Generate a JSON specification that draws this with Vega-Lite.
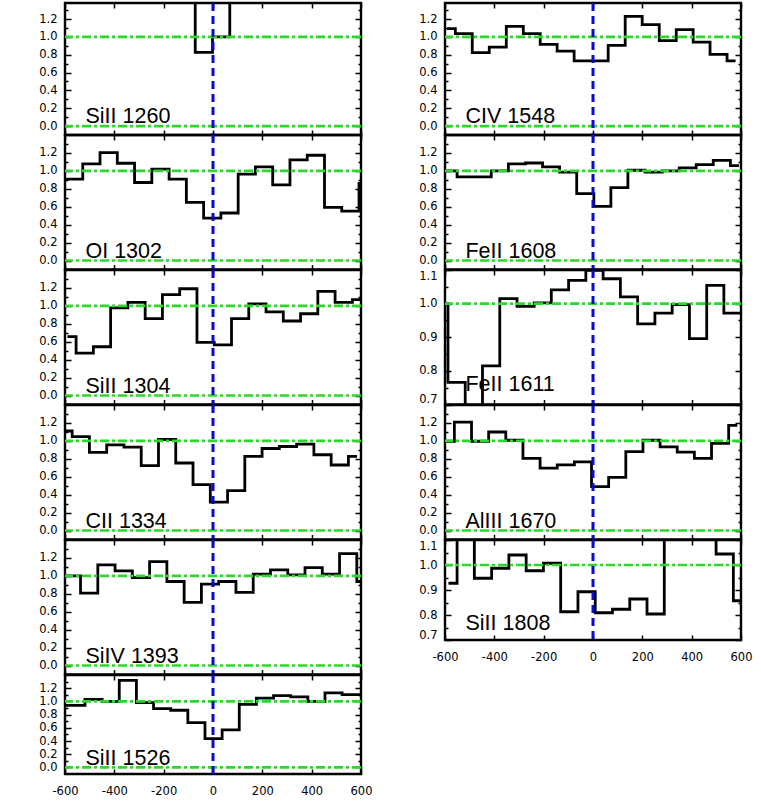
{
  "$schema": "https://vega.github.io/schema/vega-lite/v6.json",
  "padding": {"left": 37, "top": 0, "right": 0, "bottom": 0},
  "autosize": {"type": "pad"},
  "config": {
    "view": {"stroke": "black", "strokeWidth": 2.4},
    "axis": {"labelFont": "DejaVu Sans", "labelFontSize": 11.5, "labelColor": "black", "tickColor": "black", "tickWidth": 1.5, "domain": false, "grid": false, "labelOverlap": false}
  },
  "datasets": {
    "spec": [
      {"ion":"SiII 1260","v":-597,"f":2.5},{"ion":"SiII 1260","v":-527,"f":2.5},{"ion":"SiII 1260","v":-457,"f":2.5},{"ion":"SiII 1260","v":-387,"f":2.5},{"ion":"SiII 1260","v":-317,"f":2.5},{"ion":"SiII 1260","v":-247,"f":2.5},{"ion":"SiII 1260","v":-177,"f":2.5},{"ion":"SiII 1260","v":-107,"f":2.5},{"ion":"SiII 1260","v":-37,"f":0.826},{"ion":"SiII 1260","v":33,"f":1.0},{"ion":"SiII 1260","v":103,"f":2.5},{"ion":"SiII 1260","v":173,"f":2.5},{"ion":"SiII 1260","v":243,"f":2.5},{"ion":"SiII 1260","v":313,"f":2.5},{"ion":"SiII 1260","v":383,"f":2.5},{"ion":"SiII 1260","v":453,"f":2.5},{"ion":"SiII 1260","v":523,"f":2.5},{"ion":"SiII 1260","v":593,"f":2.5},

      {"ion":"OI 1302","v":-633,"f":0.907},{"ion":"OI 1302","v":-563,"f":0.907},{"ion":"OI 1302","v":-493,"f":1.078},{"ion":"OI 1302","v":-423,"f":1.204},{"ion":"OI 1302","v":-353,"f":1.085},{"ion":"OI 1302","v":-283,"f":0.870},{"ion":"OI 1302","v":-213,"f":1.019},{"ion":"OI 1302","v":-143,"f":0.907},{"ion":"OI 1302","v":-73,"f":0.648},{"ion":"OI 1302","v":-3,"f":0.474},{"ion":"OI 1302","v":67,"f":0.530},{"ion":"OI 1302","v":137,"f":0.963},{"ion":"OI 1302","v":207,"f":1.044},{"ion":"OI 1302","v":277,"f":0.844},{"ion":"OI 1302","v":347,"f":1.122},{"ion":"OI 1302","v":417,"f":1.174},{"ion":"OI 1302","v":487,"f":0.593},{"ion":"OI 1302","v":557,"f":0.552},{"ion":"OI 1302","v":627,"f":0.86},

      {"ion":"SiII 1304","v":-590,"f":0.658},{"ion":"SiII 1304","v":-520,"f":0.474},{"ion":"SiII 1304","v":-450,"f":0.544},{"ion":"SiII 1304","v":-380,"f":0.978},{"ion":"SiII 1304","v":-310,"f":1.040},{"ion":"SiII 1304","v":-240,"f":0.857},{"ion":"SiII 1304","v":-170,"f":1.125},{"ion":"SiII 1304","v":-100,"f":1.191},{"ion":"SiII 1304","v":-30,"f":0.592},{"ion":"SiII 1304","v":40,"f":0.566},{"ion":"SiII 1304","v":110,"f":0.857},{"ion":"SiII 1304","v":180,"f":1.022},{"ion":"SiII 1304","v":250,"f":0.934},{"ion":"SiII 1304","v":320,"f":0.831},{"ion":"SiII 1304","v":390,"f":0.912},{"ion":"SiII 1304","v":460,"f":1.162},{"ion":"SiII 1304","v":530,"f":1.040},{"ion":"SiII 1304","v":600,"f":1.07},

      {"ion":"CII 1334","v":-606,"f":1.11},{"ion":"CII 1334","v":-536,"f":1.048},{"ion":"CII 1334","v":-466,"f":0.871},{"ion":"CII 1334","v":-396,"f":0.956},{"ion":"CII 1334","v":-326,"f":0.930},{"ion":"CII 1334","v":-256,"f":0.723},{"ion":"CII 1334","v":-186,"f":1.015},{"ion":"CII 1334","v":-116,"f":0.753},{"ion":"CII 1334","v":-46,"f":0.513},{"ion":"CII 1334","v":24,"f":0.317},{"ion":"CII 1334","v":94,"f":0.446},{"ion":"CII 1334","v":164,"f":0.827},{"ion":"CII 1334","v":234,"f":0.915},{"ion":"CII 1334","v":304,"f":0.937},{"ion":"CII 1334","v":374,"f":0.963},{"ion":"CII 1334","v":444,"f":0.845},{"ion":"CII 1334","v":514,"f":0.731},{"ion":"CII 1334","v":584,"f":0.827},

      {"ion":"SiIV 1393","v":-642,"f":1.0},{"ion":"SiIV 1393","v":-572,"f":1.0},{"ion":"SiIV 1393","v":-502,"f":0.807},{"ion":"SiIV 1393","v":-432,"f":1.122},{"ion":"SiIV 1393","v":-362,"f":1.056},{"ion":"SiIV 1393","v":-292,"f":0.981},{"ion":"SiIV 1393","v":-222,"f":1.159},{"ion":"SiIV 1393","v":-152,"f":0.937},{"ion":"SiIV 1393","v":-82,"f":0.704},{"ion":"SiIV 1393","v":-12,"f":0.907},{"ion":"SiIV 1393","v":58,"f":0.937},{"ion":"SiIV 1393","v":128,"f":0.815},{"ion":"SiIV 1393","v":198,"f":1.019},{"ion":"SiIV 1393","v":268,"f":1.067},{"ion":"SiIV 1393","v":338,"f":1.011},{"ion":"SiIV 1393","v":408,"f":1.093},{"ion":"SiIV 1393","v":478,"f":1.019},{"ion":"SiIV 1393","v":548,"f":1.248},{"ion":"SiIV 1393","v":618,"f":0.937},

      {"ion":"SiII 1526","v":-624,"f":0.941},{"ion":"SiII 1526","v":-554,"f":0.941},{"ion":"SiII 1526","v":-484,"f":1.03},{"ion":"SiII 1526","v":-415,"f":1.0},{"ion":"SiII 1526","v":-345,"f":1.32},{"ion":"SiII 1526","v":-276,"f":0.98},{"ion":"SiII 1526","v":-206,"f":0.891},{"ion":"SiII 1526","v":-137,"f":0.866},{"ion":"SiII 1526","v":-67,"f":0.678},{"ion":"SiII 1526","v":2,"f":0.436},{"ion":"SiII 1526","v":72,"f":0.569},{"ion":"SiII 1526","v":141,"f":0.955},{"ion":"SiII 1526","v":211,"f":1.05},{"ion":"SiII 1526","v":280,"f":1.089},{"ion":"SiII 1526","v":350,"f":1.069},{"ion":"SiII 1526","v":419,"f":1.0},{"ion":"SiII 1526","v":489,"f":1.129},{"ion":"SiII 1526","v":558,"f":1.104},{"ion":"SiII 1526","v":628,"f":1.104},

      {"ion":"CIV 1548","v":-592,"f":1.092},{"ion":"CIV 1548","v":-524,"f":1.037},{"ion":"CIV 1548","v":-455,"f":0.823},{"ion":"CIV 1548","v":-386,"f":0.886},{"ion":"CIV 1548","v":-317,"f":1.118},{"ion":"CIV 1548","v":-248,"f":1.037},{"ion":"CIV 1548","v":-180,"f":0.915},{"ion":"CIV 1548","v":-111,"f":0.841},{"ion":"CIV 1548","v":-42,"f":0.731},{"ion":"CIV 1548","v":27,"f":0.731},{"ion":"CIV 1548","v":96,"f":0.904},{"ion":"CIV 1548","v":165,"f":1.229},{"ion":"CIV 1548","v":234,"f":1.137},{"ion":"CIV 1548","v":303,"f":0.959},{"ion":"CIV 1548","v":372,"f":1.081},{"ion":"CIV 1548","v":440,"f":0.941},{"ion":"CIV 1548","v":509,"f":0.804},{"ion":"CIV 1548","v":578,"f":0.731},

      {"ion":"FeII 1608","v":-655,"f":1.0},{"ion":"FeII 1608","v":-586,"f":1.0},{"ion":"FeII 1608","v":-516,"f":0.934},{"ion":"FeII 1608","v":-447,"f":0.934},{"ion":"FeII 1608","v":-378,"f":1.0},{"ion":"FeII 1608","v":-308,"f":1.077},{"ion":"FeII 1608","v":-239,"f":1.088},{"ion":"FeII 1608","v":-170,"f":1.044},{"ion":"FeII 1608","v":-101,"f":0.985},{"ion":"FeII 1608","v":-31,"f":0.746},{"ion":"FeII 1608","v":38,"f":0.603},{"ion":"FeII 1608","v":107,"f":0.812},{"ion":"FeII 1608","v":176,"f":1.007},{"ion":"FeII 1608","v":246,"f":0.985},{"ion":"FeII 1608","v":315,"f":1.0},{"ion":"FeII 1608","v":384,"f":1.033},{"ion":"FeII 1608","v":453,"f":1.07},{"ion":"FeII 1608","v":522,"f":1.118},{"ion":"FeII 1608","v":592,"f":1.059},

      {"ion":"FeII 1611","v":-623,"f":1.0},{"ion":"FeII 1611","v":-553,"f":0.766},{"ion":"FeII 1611","v":-483,"f":0.6},{"ion":"FeII 1611","v":-413,"f":0.815},{"ion":"FeII 1611","v":-343,"f":1.015},{"ion":"FeII 1611","v":-273,"f":0.992},{"ion":"FeII 1611","v":-204,"f":1.002},{"ion":"FeII 1611","v":-134,"f":1.041},{"ion":"FeII 1611","v":-64,"f":1.069},{"ion":"FeII 1611","v":6,"f":1.099},{"ion":"FeII 1611","v":76,"f":1.074},{"ion":"FeII 1611","v":146,"f":1.02},{"ion":"FeII 1611","v":216,"f":0.94},{"ion":"FeII 1611","v":286,"f":0.972},{"ion":"FeII 1611","v":356,"f":0.997},{"ion":"FeII 1611","v":426,"f":0.896},{"ion":"FeII 1611","v":496,"f":1.054},{"ion":"FeII 1611","v":565,"f":0.972},{"ion":"FeII 1611","v":635,"f":0.972},

      {"ion":"AlIII 1670","v":-597,"f":0.996},{"ion":"AlIII 1670","v":-527,"f":1.21},{"ion":"AlIII 1670","v":-458,"f":0.996},{"ion":"AlIII 1670","v":-388,"f":1.099},{"ion":"AlIII 1670","v":-319,"f":1.007},{"ion":"AlIII 1670","v":-249,"f":0.805},{"ion":"AlIII 1670","v":-180,"f":0.695},{"ion":"AlIII 1670","v":-110,"f":0.732},{"ion":"AlIII 1670","v":-41,"f":0.765},{"ion":"AlIII 1670","v":29,"f":0.489},{"ion":"AlIII 1670","v":98,"f":0.592},{"ion":"AlIII 1670","v":168,"f":0.879},{"ion":"AlIII 1670","v":237,"f":1.007},{"ion":"AlIII 1670","v":307,"f":0.934},{"ion":"AlIII 1670","v":376,"f":0.875},{"ion":"AlIII 1670","v":446,"f":0.805},{"ion":"AlIII 1670","v":515,"f":0.971},{"ion":"AlIII 1670","v":585,"f":1.173},

      {"ion":"SiII 1808","v":-586,"f":0.927},{"ion":"SiII 1808","v":-516,"f":1.2},{"ion":"SiII 1808","v":-446,"f":0.947},{"ion":"SiII 1808","v":-376,"f":0.987},{"ion":"SiII 1808","v":-306,"f":1.04},{"ion":"SiII 1808","v":-236,"f":0.977},{"ion":"SiII 1808","v":-166,"f":1.007},{"ion":"SiII 1808","v":-96,"f":0.813},{"ion":"SiII 1808","v":-26,"f":0.893},{"ion":"SiII 1808","v":44,"f":0.809},{"ion":"SiII 1808","v":114,"f":0.823},{"ion":"SiII 1808","v":184,"f":0.864},{"ion":"SiII 1808","v":254,"f":0.804},{"ion":"SiII 1808","v":324,"f":1.2},{"ion":"SiII 1808","v":394,"f":1.2},{"ion":"SiII 1808","v":464,"f":1.2},{"ion":"SiII 1808","v":534,"f":1.044},{"ion":"SiII 1808","v":604,"f":0.857}
    ]
  },
  "spacing": 43,
  "bounds": "full",
  "hconcat": [
    {
      "spacing": 0,
      "bounds": "flush",
      "vconcat": [
        {
          "width": 296, "height": 132,
          "resolve": {"axis": {"x": "independent", "y": "independent"}},
          "layer": [
            {"data": {"name": "spec"}, "transform": [{"filter": "datum.ion == 'SiII 1260'"}],
             "mark": {"type": "line", "interpolate": "step", "clip": true, "color": "black", "strokeWidth": 2.8},
             "encoding": {
               "x": {"field": "v", "type": "quantitative", "scale": {"domain": [-600, 600], "nice": false, "zero": false}, "axis": {"orient": "bottom", "title": null, "values": [-600,-400,-200,0,200,400,600], "labels": false, "tickSize": -5}},
               "y": {"field": "f", "type": "quantitative", "scale": {"domain": [-0.1, 1.38], "nice": false, "zero": false}, "axis": {"orient": "left", "title": null, "values": [0,0.1,0.2,0.3,0.4,0.5,0.6,0.7,0.8,0.9,1,1.1,1.2,1.3], "labelExpr": "round(datum.value*10) % 2 == 0 ? format(datum.value, '.1f') : ''", "tickSize": {"condition": {"test": "round(datum.value*10) % 2 == 1", "value": -3}, "value": -6}, "labelPadding": 14}}
             }},
            {"data": {"values": [{}]}, "mark": {"type": "rule", "color": "#2ed62e", "strokeWidth": 2.6, "strokeDash": [9, 3, 3, 3], "clip": true},
             "encoding": {"y": {"datum": 0, "type": "quantitative", "scale": {"domain": [-0.1, 1.38], "nice": false, "zero": false}, "axis": {"orient": "right", "title": null, "values": [0,0.1,0.2,0.3,0.4,0.5,0.6,0.7,0.8,0.9,1,1.1,1.2,1.3], "labels": false, "tickSize": {"condition": {"test": "round(datum.value*10) % 2 == 1", "value": -3}, "value": -6}}}}},
            {"data": {"values": [{}]}, "mark": {"type": "rule", "color": "#2ed62e", "strokeWidth": 2.6, "strokeDash": [9, 3, 3, 3], "clip": true},
             "encoding": {"y": {"datum": 1, "type": "quantitative", "scale": {"domain": [-0.1, 1.38], "nice": false, "zero": false}, "axis": null}}},
            {"data": {"values": [{}]}, "mark": {"type": "rule", "color": "#0a0ad2", "strokeWidth": 3, "strokeDash": [8, 5]},
             "encoding": {"x": {"datum": 0, "type": "quantitative", "scale": {"domain": [-600, 600], "nice": false, "zero": false}, "axis": {"orient": "top", "title": null, "values": [-600,-400,-200,0,200,400,600], "labels": false, "tickSize": -5}}}},
            {"data": {"values": [{}]}, "mark": {"type": "text", "text": "SiII 1260", "font": "Liberation Sans", "fontSize": 21.5, "align": "left", "baseline": "alphabetic", "color": "black"},
             "encoding": {"x": {"datum": -517, "type": "quantitative", "scale": {"domain": [-600, 600], "nice": false, "zero": false}, "axis": null}, "y": {"datum": 0.03, "type": "quantitative", "scale": {"domain": [-0.1, 1.38], "nice": false, "zero": false}, "axis": null}}}
          ]
        },
        {
          "width": 296, "height": 134.5,
          "resolve": {"axis": {"x": "independent", "y": "independent"}},
          "layer": [
            {"data": {"name": "spec"}, "transform": [{"filter": "datum.ion == 'OI 1302'"}],
             "mark": {"type": "line", "interpolate": "step", "clip": true, "color": "black", "strokeWidth": 2.8},
             "encoding": {
               "x": {"field": "v", "type": "quantitative", "scale": {"domain": [-600, 600], "nice": false, "zero": false}, "axis": {"orient": "bottom", "title": null, "values": [-600,-400,-200,0,200,400,600], "labels": false, "tickSize": -5}},
               "y": {"field": "f", "type": "quantitative", "scale": {"domain": [-0.1, 1.4], "nice": false, "zero": false}, "axis": {"orient": "left", "title": null, "values": [0,0.1,0.2,0.3,0.4,0.5,0.6,0.7,0.8,0.9,1,1.1,1.2,1.3], "labelExpr": "round(datum.value*10) % 2 == 0 ? format(datum.value, '.1f') : ''", "tickSize": {"condition": {"test": "round(datum.value*10) % 2 == 1", "value": -3}, "value": -6}, "labelPadding": 14}}
             }},
            {"data": {"values": [{}]}, "mark": {"type": "rule", "color": "#2ed62e", "strokeWidth": 2.6, "strokeDash": [9, 3, 3, 3], "clip": true},
             "encoding": {"y": {"datum": 0, "type": "quantitative", "scale": {"domain": [-0.1, 1.4], "nice": false, "zero": false}, "axis": {"orient": "right", "title": null, "values": [0,0.1,0.2,0.3,0.4,0.5,0.6,0.7,0.8,0.9,1,1.1,1.2,1.3], "labels": false, "tickSize": {"condition": {"test": "round(datum.value*10) % 2 == 1", "value": -3}, "value": -6}}}}},
            {"data": {"values": [{}]}, "mark": {"type": "rule", "color": "#2ed62e", "strokeWidth": 2.6, "strokeDash": [9, 3, 3, 3], "clip": true},
             "encoding": {"y": {"datum": 1, "type": "quantitative", "scale": {"domain": [-0.1, 1.4], "nice": false, "zero": false}, "axis": null}}},
            {"data": {"values": [{}]}, "mark": {"type": "rule", "color": "#0a0ad2", "strokeWidth": 3, "strokeDash": [8, 5]},
             "encoding": {"x": {"datum": 0, "type": "quantitative", "scale": {"domain": [-600, 600], "nice": false, "zero": false}, "axis": {"orient": "top", "title": null, "values": [-600,-400,-200,0,200,400,600], "labels": false, "tickSize": -5}}}},
            {"data": {"values": [{}]}, "mark": {"type": "text", "text": "OI 1302", "font": "Liberation Sans", "fontSize": 21.5, "align": "left", "baseline": "alphabetic", "color": "black"},
             "encoding": {"x": {"datum": -517, "type": "quantitative", "scale": {"domain": [-600, 600], "nice": false, "zero": false}, "axis": null}, "y": {"datum": 0.03, "type": "quantitative", "scale": {"domain": [-0.1, 1.4], "nice": false, "zero": false}, "axis": null}}}
          ]
        },
        {
          "width": 296, "height": 134.5,
          "resolve": {"axis": {"x": "independent", "y": "independent"}},
          "layer": [
            {"data": {"name": "spec"}, "transform": [{"filter": "datum.ion == 'SiII 1304'"}],
             "mark": {"type": "line", "interpolate": "step", "clip": true, "color": "black", "strokeWidth": 2.8},
             "encoding": {
               "x": {"field": "v", "type": "quantitative", "scale": {"domain": [-600, 600], "nice": false, "zero": false}, "axis": {"orient": "bottom", "title": null, "values": [-600,-400,-200,0,200,400,600], "labels": false, "tickSize": -5}},
               "y": {"field": "f", "type": "quantitative", "scale": {"domain": [-0.1, 1.4], "nice": false, "zero": false}, "axis": {"orient": "left", "title": null, "values": [0,0.1,0.2,0.3,0.4,0.5,0.6,0.7,0.8,0.9,1,1.1,1.2,1.3], "labelExpr": "round(datum.value*10) % 2 == 0 ? format(datum.value, '.1f') : ''", "tickSize": {"condition": {"test": "round(datum.value*10) % 2 == 1", "value": -3}, "value": -6}, "labelPadding": 14}}
             }},
            {"data": {"values": [{}]}, "mark": {"type": "rule", "color": "#2ed62e", "strokeWidth": 2.6, "strokeDash": [9, 3, 3, 3], "clip": true},
             "encoding": {"y": {"datum": 0, "type": "quantitative", "scale": {"domain": [-0.1, 1.4], "nice": false, "zero": false}, "axis": {"orient": "right", "title": null, "values": [0,0.1,0.2,0.3,0.4,0.5,0.6,0.7,0.8,0.9,1,1.1,1.2,1.3], "labels": false, "tickSize": {"condition": {"test": "round(datum.value*10) % 2 == 1", "value": -3}, "value": -6}}}}},
            {"data": {"values": [{}]}, "mark": {"type": "rule", "color": "#2ed62e", "strokeWidth": 2.6, "strokeDash": [9, 3, 3, 3], "clip": true},
             "encoding": {"y": {"datum": 1, "type": "quantitative", "scale": {"domain": [-0.1, 1.4], "nice": false, "zero": false}, "axis": null}}},
            {"data": {"values": [{}]}, "mark": {"type": "rule", "color": "#0a0ad2", "strokeWidth": 3, "strokeDash": [8, 5]},
             "encoding": {"x": {"datum": 0, "type": "quantitative", "scale": {"domain": [-600, 600], "nice": false, "zero": false}, "axis": {"orient": "top", "title": null, "values": [-600,-400,-200,0,200,400,600], "labels": false, "tickSize": -5}}}},
            {"data": {"values": [{}]}, "mark": {"type": "text", "text": "SiII 1304", "font": "Liberation Sans", "fontSize": 21.5, "align": "left", "baseline": "alphabetic", "color": "black"},
             "encoding": {"x": {"datum": -517, "type": "quantitative", "scale": {"domain": [-600, 600], "nice": false, "zero": false}, "axis": null}, "y": {"datum": 0.03, "type": "quantitative", "scale": {"domain": [-0.1, 1.4], "nice": false, "zero": false}, "axis": null}}}
          ]
        },
        {
          "width": 296, "height": 134.5,
          "resolve": {"axis": {"x": "independent", "y": "independent"}},
          "layer": [
            {"data": {"name": "spec"}, "transform": [{"filter": "datum.ion == 'CII 1334'"}],
             "mark": {"type": "line", "interpolate": "step", "clip": true, "color": "black", "strokeWidth": 2.8},
             "encoding": {
               "x": {"field": "v", "type": "quantitative", "scale": {"domain": [-600, 600], "nice": false, "zero": false}, "axis": {"orient": "bottom", "title": null, "values": [-600,-400,-200,0,200,400,600], "labels": false, "tickSize": -5}},
               "y": {"field": "f", "type": "quantitative", "scale": {"domain": [-0.1, 1.4], "nice": false, "zero": false}, "axis": {"orient": "left", "title": null, "values": [0,0.1,0.2,0.3,0.4,0.5,0.6,0.7,0.8,0.9,1,1.1,1.2,1.3], "labelExpr": "round(datum.value*10) % 2 == 0 ? format(datum.value, '.1f') : ''", "tickSize": {"condition": {"test": "round(datum.value*10) % 2 == 1", "value": -3}, "value": -6}, "labelPadding": 14}}
             }},
            {"data": {"values": [{}]}, "mark": {"type": "rule", "color": "#2ed62e", "strokeWidth": 2.6, "strokeDash": [9, 3, 3, 3], "clip": true},
             "encoding": {"y": {"datum": 0, "type": "quantitative", "scale": {"domain": [-0.1, 1.4], "nice": false, "zero": false}, "axis": {"orient": "right", "title": null, "values": [0,0.1,0.2,0.3,0.4,0.5,0.6,0.7,0.8,0.9,1,1.1,1.2,1.3], "labels": false, "tickSize": {"condition": {"test": "round(datum.value*10) % 2 == 1", "value": -3}, "value": -6}}}}},
            {"data": {"values": [{}]}, "mark": {"type": "rule", "color": "#2ed62e", "strokeWidth": 2.6, "strokeDash": [9, 3, 3, 3], "clip": true},
             "encoding": {"y": {"datum": 1, "type": "quantitative", "scale": {"domain": [-0.1, 1.4], "nice": false, "zero": false}, "axis": null}}},
            {"data": {"values": [{}]}, "mark": {"type": "rule", "color": "#0a0ad2", "strokeWidth": 3, "strokeDash": [8, 5]},
             "encoding": {"x": {"datum": 0, "type": "quantitative", "scale": {"domain": [-600, 600], "nice": false, "zero": false}, "axis": {"orient": "top", "title": null, "values": [-600,-400,-200,0,200,400,600], "labels": false, "tickSize": -5}}}},
            {"data": {"values": [{}]}, "mark": {"type": "text", "text": "CII 1334", "font": "Liberation Sans", "fontSize": 21.5, "align": "left", "baseline": "alphabetic", "color": "black"},
             "encoding": {"x": {"datum": -517, "type": "quantitative", "scale": {"domain": [-600, 600], "nice": false, "zero": false}, "axis": null}, "y": {"datum": 0.03, "type": "quantitative", "scale": {"domain": [-0.1, 1.4], "nice": false, "zero": false}, "axis": null}}}
          ]
        },
        {
          "width": 296, "height": 134.5,
          "resolve": {"axis": {"x": "independent", "y": "independent"}},
          "layer": [
            {"data": {"name": "spec"}, "transform": [{"filter": "datum.ion == 'SiIV 1393'"}],
             "mark": {"type": "line", "interpolate": "step", "clip": true, "color": "black", "strokeWidth": 2.8},
             "encoding": {
               "x": {"field": "v", "type": "quantitative", "scale": {"domain": [-600, 600], "nice": false, "zero": false}, "axis": {"orient": "bottom", "title": null, "values": [-600,-400,-200,0,200,400,600], "labels": false, "tickSize": -5}},
               "y": {"field": "f", "type": "quantitative", "scale": {"domain": [-0.1, 1.4], "nice": false, "zero": false}, "axis": {"orient": "left", "title": null, "values": [0,0.1,0.2,0.3,0.4,0.5,0.6,0.7,0.8,0.9,1,1.1,1.2,1.3], "labelExpr": "round(datum.value*10) % 2 == 0 ? format(datum.value, '.1f') : ''", "tickSize": {"condition": {"test": "round(datum.value*10) % 2 == 1", "value": -3}, "value": -6}, "labelPadding": 14}}
             }},
            {"data": {"values": [{}]}, "mark": {"type": "rule", "color": "#2ed62e", "strokeWidth": 2.6, "strokeDash": [9, 3, 3, 3], "clip": true},
             "encoding": {"y": {"datum": 0, "type": "quantitative", "scale": {"domain": [-0.1, 1.4], "nice": false, "zero": false}, "axis": {"orient": "right", "title": null, "values": [0,0.1,0.2,0.3,0.4,0.5,0.6,0.7,0.8,0.9,1,1.1,1.2,1.3], "labels": false, "tickSize": {"condition": {"test": "round(datum.value*10) % 2 == 1", "value": -3}, "value": -6}}}}},
            {"data": {"values": [{}]}, "mark": {"type": "rule", "color": "#2ed62e", "strokeWidth": 2.6, "strokeDash": [9, 3, 3, 3], "clip": true},
             "encoding": {"y": {"datum": 1, "type": "quantitative", "scale": {"domain": [-0.1, 1.4], "nice": false, "zero": false}, "axis": null}}},
            {"data": {"values": [{}]}, "mark": {"type": "rule", "color": "#0a0ad2", "strokeWidth": 3, "strokeDash": [8, 5]},
             "encoding": {"x": {"datum": 0, "type": "quantitative", "scale": {"domain": [-600, 600], "nice": false, "zero": false}, "axis": {"orient": "top", "title": null, "values": [-600,-400,-200,0,200,400,600], "labels": false, "tickSize": -5}}}},
            {"data": {"values": [{}]}, "mark": {"type": "text", "text": "SiIV 1393", "font": "Liberation Sans", "fontSize": 21.5, "align": "left", "baseline": "alphabetic", "color": "black"},
             "encoding": {"x": {"datum": -517, "type": "quantitative", "scale": {"domain": [-600, 600], "nice": false, "zero": false}, "axis": null}, "y": {"datum": 0.03, "type": "quantitative", "scale": {"domain": [-0.1, 1.4], "nice": false, "zero": false}, "axis": null}}}
          ]
        },
        {
          "width": 296, "height": 99,
          "resolve": {"axis": {"x": "independent", "y": "independent"}},
          "layer": [
            {"data": {"name": "spec"}, "transform": [{"filter": "datum.ion == 'SiII 1526'"}],
             "mark": {"type": "line", "interpolate": "step", "clip": true, "color": "black", "strokeWidth": 2.8},
             "encoding": {
               "x": {"field": "v", "type": "quantitative", "scale": {"domain": [-600, 600], "nice": false, "zero": false}, "axis": {"orient": "bottom", "title": null, "values": [-600,-400,-200,0,200,400,600], "labels": true, "labelFlush": false, "labelPadding": 16, "labelExpr": "datum.value < 0 ? '-' + abs(datum.value) : '' + datum.value", "tickSize": -5}},
               "y": {"field": "f", "type": "quantitative", "scale": {"domain": [-0.1, 1.4], "nice": false, "zero": false}, "axis": {"orient": "left", "title": null, "values": [0,0.1,0.2,0.3,0.4,0.5,0.6,0.7,0.8,0.9,1,1.1,1.2,1.3], "labelExpr": "round(datum.value*10) % 2 == 0 ? format(datum.value, '.1f') : ''", "tickSize": {"condition": {"test": "round(datum.value*10) % 2 == 1", "value": -3}, "value": -6}, "labelPadding": 14}}
             }},
            {"data": {"values": [{}]}, "mark": {"type": "rule", "color": "#2ed62e", "strokeWidth": 2.6, "strokeDash": [9, 3, 3, 3], "clip": true},
             "encoding": {"y": {"datum": 0, "type": "quantitative", "scale": {"domain": [-0.1, 1.4], "nice": false, "zero": false}, "axis": {"orient": "right", "title": null, "values": [0,0.1,0.2,0.3,0.4,0.5,0.6,0.7,0.8,0.9,1,1.1,1.2,1.3], "labels": false, "tickSize": {"condition": {"test": "round(datum.value*10) % 2 == 1", "value": -3}, "value": -6}}}}},
            {"data": {"values": [{}]}, "mark": {"type": "rule", "color": "#2ed62e", "strokeWidth": 2.6, "strokeDash": [9, 3, 3, 3], "clip": true},
             "encoding": {"y": {"datum": 1, "type": "quantitative", "scale": {"domain": [-0.1, 1.4], "nice": false, "zero": false}, "axis": null}}},
            {"data": {"values": [{}]}, "mark": {"type": "rule", "color": "#0a0ad2", "strokeWidth": 3, "strokeDash": [8, 5]},
             "encoding": {"x": {"datum": 0, "type": "quantitative", "scale": {"domain": [-600, 600], "nice": false, "zero": false}, "axis": {"orient": "top", "title": null, "values": [-600,-400,-200,0,200,400,600], "labels": false, "tickSize": -5}}}},
            {"data": {"values": [{}]}, "mark": {"type": "text", "text": "SiII 1526", "font": "Liberation Sans", "fontSize": 21.5, "align": "left", "baseline": "alphabetic", "color": "black"},
             "encoding": {"x": {"datum": -517, "type": "quantitative", "scale": {"domain": [-600, 600], "nice": false, "zero": false}, "axis": null}, "y": {"datum": 0.03, "type": "quantitative", "scale": {"domain": [-0.1, 1.4], "nice": false, "zero": false}, "axis": null}}}
          ]
        }
      ]
    },
    {
      "spacing": 0,
      "bounds": "flush",
      "vconcat": [
        {
          "width": 296, "height": 132,
          "resolve": {"axis": {"x": "independent", "y": "independent"}},
          "layer": [
            {"data": {"name": "spec"}, "transform": [{"filter": "datum.ion == 'CIV 1548'"}],
             "mark": {"type": "line", "interpolate": "step", "clip": true, "color": "black", "strokeWidth": 2.8},
             "encoding": {
               "x": {"field": "v", "type": "quantitative", "scale": {"domain": [-600, 600], "nice": false, "zero": false}, "axis": {"orient": "bottom", "title": null, "values": [-600,-400,-200,0,200,400,600], "labels": false, "tickSize": -5}},
               "y": {"field": "f", "type": "quantitative", "scale": {"domain": [-0.1, 1.38], "nice": false, "zero": false}, "axis": {"orient": "left", "title": null, "values": [0,0.1,0.2,0.3,0.4,0.5,0.6,0.7,0.8,0.9,1,1.1,1.2,1.3], "labelExpr": "round(datum.value*10) % 2 == 0 ? format(datum.value, '.1f') : ''", "tickSize": {"condition": {"test": "round(datum.value*10) % 2 == 1", "value": -3}, "value": -6}, "labelPadding": 14}}
             }},
            {"data": {"values": [{}]}, "mark": {"type": "rule", "color": "#2ed62e", "strokeWidth": 2.6, "strokeDash": [9, 3, 3, 3], "clip": true},
             "encoding": {"y": {"datum": 0, "type": "quantitative", "scale": {"domain": [-0.1, 1.38], "nice": false, "zero": false}, "axis": {"orient": "right", "title": null, "values": [0,0.1,0.2,0.3,0.4,0.5,0.6,0.7,0.8,0.9,1,1.1,1.2,1.3], "labels": false, "tickSize": {"condition": {"test": "round(datum.value*10) % 2 == 1", "value": -3}, "value": -6}}}}},
            {"data": {"values": [{}]}, "mark": {"type": "rule", "color": "#2ed62e", "strokeWidth": 2.6, "strokeDash": [9, 3, 3, 3], "clip": true},
             "encoding": {"y": {"datum": 1, "type": "quantitative", "scale": {"domain": [-0.1, 1.38], "nice": false, "zero": false}, "axis": null}}},
            {"data": {"values": [{}]}, "mark": {"type": "rule", "color": "#0a0ad2", "strokeWidth": 3, "strokeDash": [8, 5]},
             "encoding": {"x": {"datum": 0, "type": "quantitative", "scale": {"domain": [-600, 600], "nice": false, "zero": false}, "axis": {"orient": "top", "title": null, "values": [-600,-400,-200,0,200,400,600], "labels": false, "tickSize": -5}}}},
            {"data": {"values": [{}]}, "mark": {"type": "text", "text": "CIV 1548", "font": "Liberation Sans", "fontSize": 21.5, "align": "left", "baseline": "alphabetic", "color": "black"},
             "encoding": {"x": {"datum": -517, "type": "quantitative", "scale": {"domain": [-600, 600], "nice": false, "zero": false}, "axis": null}, "y": {"datum": 0.03, "type": "quantitative", "scale": {"domain": [-0.1, 1.38], "nice": false, "zero": false}, "axis": null}}}
          ]
        },
        {
          "width": 296, "height": 134.5,
          "resolve": {"axis": {"x": "independent", "y": "independent"}},
          "layer": [
            {"data": {"name": "spec"}, "transform": [{"filter": "datum.ion == 'FeII 1608'"}],
             "mark": {"type": "line", "interpolate": "step", "clip": true, "color": "black", "strokeWidth": 2.8},
             "encoding": {
               "x": {"field": "v", "type": "quantitative", "scale": {"domain": [-600, 600], "nice": false, "zero": false}, "axis": {"orient": "bottom", "title": null, "values": [-600,-400,-200,0,200,400,600], "labels": false, "tickSize": -5}},
               "y": {"field": "f", "type": "quantitative", "scale": {"domain": [-0.1, 1.4], "nice": false, "zero": false}, "axis": {"orient": "left", "title": null, "values": [0,0.1,0.2,0.3,0.4,0.5,0.6,0.7,0.8,0.9,1,1.1,1.2,1.3], "labelExpr": "round(datum.value*10) % 2 == 0 ? format(datum.value, '.1f') : ''", "tickSize": {"condition": {"test": "round(datum.value*10) % 2 == 1", "value": -3}, "value": -6}, "labelPadding": 14}}
             }},
            {"data": {"values": [{}]}, "mark": {"type": "rule", "color": "#2ed62e", "strokeWidth": 2.6, "strokeDash": [9, 3, 3, 3], "clip": true},
             "encoding": {"y": {"datum": 0, "type": "quantitative", "scale": {"domain": [-0.1, 1.4], "nice": false, "zero": false}, "axis": {"orient": "right", "title": null, "values": [0,0.1,0.2,0.3,0.4,0.5,0.6,0.7,0.8,0.9,1,1.1,1.2,1.3], "labels": false, "tickSize": {"condition": {"test": "round(datum.value*10) % 2 == 1", "value": -3}, "value": -6}}}}},
            {"data": {"values": [{}]}, "mark": {"type": "rule", "color": "#2ed62e", "strokeWidth": 2.6, "strokeDash": [9, 3, 3, 3], "clip": true},
             "encoding": {"y": {"datum": 1, "type": "quantitative", "scale": {"domain": [-0.1, 1.4], "nice": false, "zero": false}, "axis": null}}},
            {"data": {"values": [{}]}, "mark": {"type": "rule", "color": "#0a0ad2", "strokeWidth": 3, "strokeDash": [8, 5]},
             "encoding": {"x": {"datum": 0, "type": "quantitative", "scale": {"domain": [-600, 600], "nice": false, "zero": false}, "axis": {"orient": "top", "title": null, "values": [-600,-400,-200,0,200,400,600], "labels": false, "tickSize": -5}}}},
            {"data": {"values": [{}]}, "mark": {"type": "text", "text": "FeII 1608", "font": "Liberation Sans", "fontSize": 21.5, "align": "left", "baseline": "alphabetic", "color": "black"},
             "encoding": {"x": {"datum": -517, "type": "quantitative", "scale": {"domain": [-600, 600], "nice": false, "zero": false}, "axis": null}, "y": {"datum": 0.03, "type": "quantitative", "scale": {"domain": [-0.1, 1.4], "nice": false, "zero": false}, "axis": null}}}
          ]
        },
        {
          "width": 296, "height": 134.5,
          "resolve": {"axis": {"x": "independent", "y": "independent"}},
          "layer": [
            {"data": {"name": "spec"}, "transform": [{"filter": "datum.ion == 'FeII 1611'"}],
             "mark": {"type": "line", "interpolate": "step", "clip": true, "color": "black", "strokeWidth": 2.8},
             "encoding": {
               "x": {"field": "v", "type": "quantitative", "scale": {"domain": [-600, 600], "nice": false, "zero": false}, "axis": {"orient": "bottom", "title": null, "values": [-600,-400,-200,0,200,400,600], "labels": false, "tickSize": -5}},
               "y": {"field": "f", "type": "quantitative", "scale": {"domain": [0.7, 1.1], "nice": false, "zero": false}, "axis": {"orient": "left", "title": null, "values": [0.7,0.75,0.8,0.85,0.9,0.95,1,1.05,1.1], "labelExpr": "round(datum.value*20) % 2 == 0 ? format(datum.value, '.1f') : ''", "tickSize": {"condition": {"test": "round(datum.value*20) % 2 == 1", "value": -3}, "value": -6}, "labelPadding": 14, "labelFlush": true}}
             }},
            {"data": {"values": [{}]}, "mark": {"type": "rule", "color": "#2ed62e", "strokeWidth": 2.6, "strokeDash": [9, 3, 3, 3], "clip": true},
             "encoding": {"y": {"datum": 1, "type": "quantitative", "scale": {"domain": [0.7, 1.1], "nice": false, "zero": false}, "axis": {"orient": "right", "title": null, "values": [0.7,0.75,0.8,0.85,0.9,0.95,1,1.05,1.1], "labels": false, "tickSize": {"condition": {"test": "round(datum.value*20) % 2 == 1", "value": -3}, "value": -6}}}}},
            {"data": {"values": [{}]}, "mark": {"type": "rule", "color": "#0a0ad2", "strokeWidth": 3, "strokeDash": [8, 5]},
             "encoding": {"x": {"datum": 0, "type": "quantitative", "scale": {"domain": [-600, 600], "nice": false, "zero": false}, "axis": {"orient": "top", "title": null, "values": [-600,-400,-200,0,200,400,600], "labels": false, "tickSize": -5}}}},
            {"data": {"values": [{}]}, "mark": {"type": "text", "text": "FeII 1611", "font": "Liberation Sans", "fontSize": 21.5, "align": "left", "baseline": "alphabetic", "color": "black"},
             "encoding": {"x": {"datum": -517, "type": "quantitative", "scale": {"domain": [-600, 600], "nice": false, "zero": false}, "axis": null}, "y": {"datum": 0.741, "type": "quantitative", "scale": {"domain": [0.7, 1.1], "nice": false, "zero": false}, "axis": null}}}
          ]
        },
        {
          "width": 296, "height": 134.5,
          "resolve": {"axis": {"x": "independent", "y": "independent"}},
          "layer": [
            {"data": {"name": "spec"}, "transform": [{"filter": "datum.ion == 'AlIII 1670'"}],
             "mark": {"type": "line", "interpolate": "step", "clip": true, "color": "black", "strokeWidth": 2.8},
             "encoding": {
               "x": {"field": "v", "type": "quantitative", "scale": {"domain": [-600, 600], "nice": false, "zero": false}, "axis": {"orient": "bottom", "title": null, "values": [-600,-400,-200,0,200,400,600], "labels": false, "tickSize": -5}},
               "y": {"field": "f", "type": "quantitative", "scale": {"domain": [-0.1, 1.4], "nice": false, "zero": false}, "axis": {"orient": "left", "title": null, "values": [0,0.1,0.2,0.3,0.4,0.5,0.6,0.7,0.8,0.9,1,1.1,1.2,1.3], "labelExpr": "round(datum.value*10) % 2 == 0 ? format(datum.value, '.1f') : ''", "tickSize": {"condition": {"test": "round(datum.value*10) % 2 == 1", "value": -3}, "value": -6}, "labelPadding": 14}}
             }},
            {"data": {"values": [{}]}, "mark": {"type": "rule", "color": "#2ed62e", "strokeWidth": 2.6, "strokeDash": [9, 3, 3, 3], "clip": true},
             "encoding": {"y": {"datum": 0, "type": "quantitative", "scale": {"domain": [-0.1, 1.4], "nice": false, "zero": false}, "axis": {"orient": "right", "title": null, "values": [0,0.1,0.2,0.3,0.4,0.5,0.6,0.7,0.8,0.9,1,1.1,1.2,1.3], "labels": false, "tickSize": {"condition": {"test": "round(datum.value*10) % 2 == 1", "value": -3}, "value": -6}}}}},
            {"data": {"values": [{}]}, "mark": {"type": "rule", "color": "#2ed62e", "strokeWidth": 2.6, "strokeDash": [9, 3, 3, 3], "clip": true},
             "encoding": {"y": {"datum": 1, "type": "quantitative", "scale": {"domain": [-0.1, 1.4], "nice": false, "zero": false}, "axis": null}}},
            {"data": {"values": [{}]}, "mark": {"type": "rule", "color": "#0a0ad2", "strokeWidth": 3, "strokeDash": [8, 5]},
             "encoding": {"x": {"datum": 0, "type": "quantitative", "scale": {"domain": [-600, 600], "nice": false, "zero": false}, "axis": {"orient": "top", "title": null, "values": [-600,-400,-200,0,200,400,600], "labels": false, "tickSize": -5}}}},
            {"data": {"values": [{}]}, "mark": {"type": "text", "text": "AlIII 1670", "font": "Liberation Sans", "fontSize": 21.5, "align": "left", "baseline": "alphabetic", "color": "black"},
             "encoding": {"x": {"datum": -517, "type": "quantitative", "scale": {"domain": [-600, 600], "nice": false, "zero": false}, "axis": null}, "y": {"datum": 0.03, "type": "quantitative", "scale": {"domain": [-0.1, 1.4], "nice": false, "zero": false}, "axis": null}}}
          ]
        },
        {
          "width": 296, "height": 100,
          "resolve": {"axis": {"x": "independent", "y": "independent"}},
          "layer": [
            {"data": {"name": "spec"}, "transform": [{"filter": "datum.ion == 'SiII 1808'"}],
             "mark": {"type": "line", "interpolate": "step", "clip": true, "color": "black", "strokeWidth": 2.8},
             "encoding": {
               "x": {"field": "v", "type": "quantitative", "scale": {"domain": [-600, 600], "nice": false, "zero": false}, "axis": {"orient": "bottom", "title": null, "values": [-600,-400,-200,0,200,400,600], "labels": true, "labelFlush": false, "labelPadding": 16, "labelExpr": "datum.value < 0 ? '-' + abs(datum.value) : '' + datum.value", "tickSize": -5}},
               "y": {"field": "f", "type": "quantitative", "scale": {"domain": [0.7, 1.1], "nice": false, "zero": false}, "axis": {"orient": "left", "title": null, "values": [0.7,0.75,0.8,0.85,0.9,0.95,1,1.05,1.1], "labelExpr": "round(datum.value*20) % 2 == 0 ? format(datum.value, '.1f') : ''", "tickSize": {"condition": {"test": "round(datum.value*20) % 2 == 1", "value": -3}, "value": -6}, "labelPadding": 14, "labelFlush": true}}
             }},
            {"data": {"values": [{}]}, "mark": {"type": "rule", "color": "#2ed62e", "strokeWidth": 2.6, "strokeDash": [9, 3, 3, 3], "clip": true},
             "encoding": {"y": {"datum": 1, "type": "quantitative", "scale": {"domain": [0.7, 1.1], "nice": false, "zero": false}, "axis": {"orient": "right", "title": null, "values": [0.7,0.75,0.8,0.85,0.9,0.95,1,1.05,1.1], "labels": false, "tickSize": {"condition": {"test": "round(datum.value*20) % 2 == 1", "value": -3}, "value": -6}}}}},
            {"data": {"values": [{}]}, "mark": {"type": "rule", "color": "#0a0ad2", "strokeWidth": 3, "strokeDash": [8, 5]},
             "encoding": {"x": {"datum": 0, "type": "quantitative", "scale": {"domain": [-600, 600], "nice": false, "zero": false}, "axis": {"orient": "top", "title": null, "values": [-600,-400,-200,0,200,400,600], "labels": false, "tickSize": -5}}}},
            {"data": {"values": [{}]}, "mark": {"type": "text", "text": "SiII 1808", "font": "Liberation Sans", "fontSize": 21.5, "align": "left", "baseline": "alphabetic", "color": "black"},
             "encoding": {"x": {"datum": -517, "type": "quantitative", "scale": {"domain": [-600, 600], "nice": false, "zero": false}, "axis": null}, "y": {"datum": 0.741, "type": "quantitative", "scale": {"domain": [0.7, 1.1], "nice": false, "zero": false}, "axis": null}}}
          ]
        }
      ]
    }
  ]
}
